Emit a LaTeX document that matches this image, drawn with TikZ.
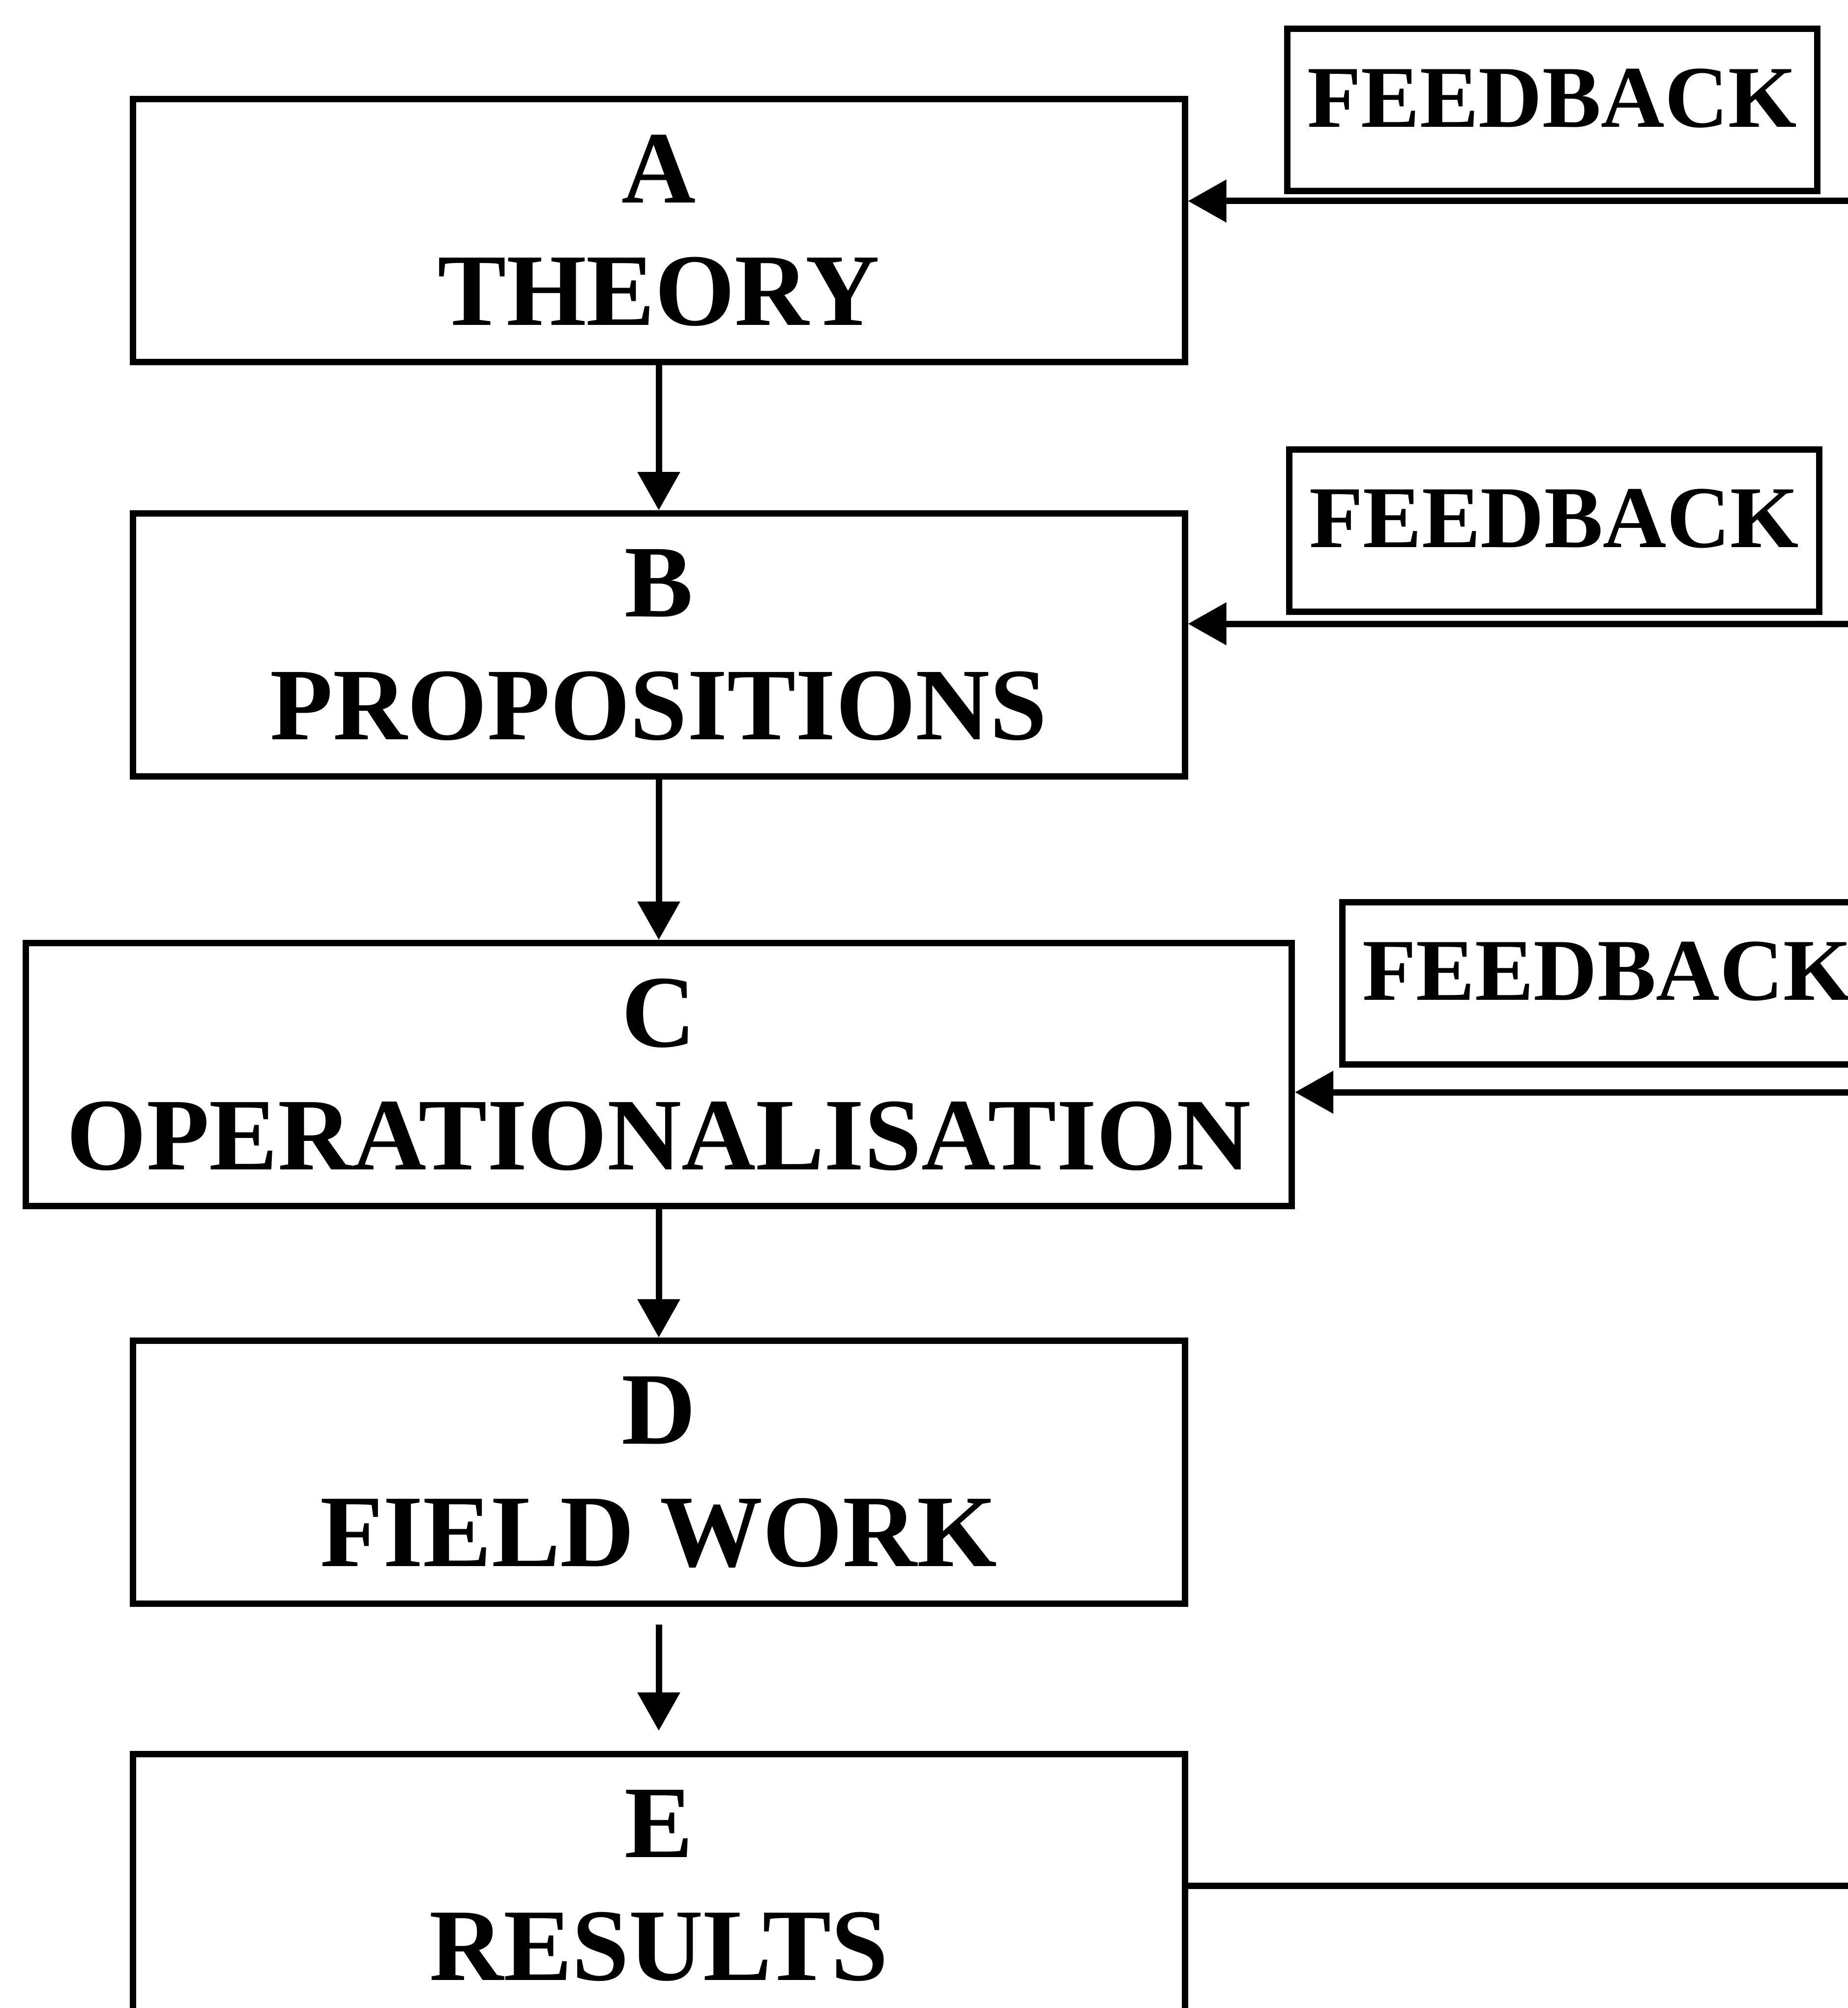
\documentclass[tikz,border=0pt]{standalone}
\usepackage{fontspec}
\setmainfont{Liberation Serif}
\usetikzlibrary{arrows.meta}

\begin{document}
\begin{tikzpicture}

\def\midx{13.4}
\def\rightedge{37.59}

\tikzstyle{stage}=[rectangle,draw,line width=0.13cm,minimum width=21.4cm,minimum height=5.35cm,inner sep=0pt,align=center,font=\fontsize{59.5}{71}\selectfont\bfseries]
\tikzstyle{wideStage}=[stage,minimum width=25.75cm];
\tikzstyle{feedback}=[rectangle,draw,line width=0.13cm,minimum width=10.78cm,minimum height=3.3cm,inner sep=0pt,text depth=0.5cm,font=\fontsize{51}{60}\selectfont\bfseries]
\tikzstyle{flow}=[line width=0.13cm,-{Triangle[length=0.78cm,width=0.84cm]}];

\useasboundingbox (0,0) rectangle (\rightedge,-40.85);
\clip (0,0) rectangle (\rightedge,-40.85);

%Stages
\node[stage] (theory) at (\midx,-4.69) {A\\THEORY};
\node[stage] (propositions) at (\midx,-13.12) {B\\PROPOSITIONS};
\node[wideStage] (operational) at (\midx,-21.86) {C\\OPERATIONALISATION};
\node[stage] (fieldwork) at (\midx,-29.95) {D\\FIELD WORK};
\node[stage] (results) at (\midx,-38.36) {E\\RESULTS};

\draw[flow] (theory) -- (propositions);
\draw[flow] (propositions) -- (operational);
\draw[flow] (operational) -- (fieldwork);
\draw[flow,shorten <=0.36cm,shorten >=0.41cm] (fieldwork) -- (results);

%Feedback boxes
\node[feedback] (fbTheory) at (31.57,-2.24) {FEEDBACK};
\node[feedback] (fbPropositions) at (31.61,-10.79) {FEEDBACK};
\node[feedback] (fbOperational) at (32.69,-20.0) {FEEDBACK};

%Feedback lines, running off the right edge
\coordinate (inTheory) at (\rightedge,-4.09);
\coordinate (inPropositions) at (\rightedge,-12.69);
\coordinate (inOperational) at (\rightedge,-22.22);
\coordinate (outResults) at (\rightedge,-38.36);

\draw[flow] (inTheory) -- (inTheory -| theory.east);
\draw[flow] (inPropositions) -- (inPropositions -| propositions.east);
\draw[flow] (inOperational) -- (inOperational -| operational.east);
\draw[line width=0.13cm] (results.east) -- (outResults);

\end{tikzpicture}
\end{document}
